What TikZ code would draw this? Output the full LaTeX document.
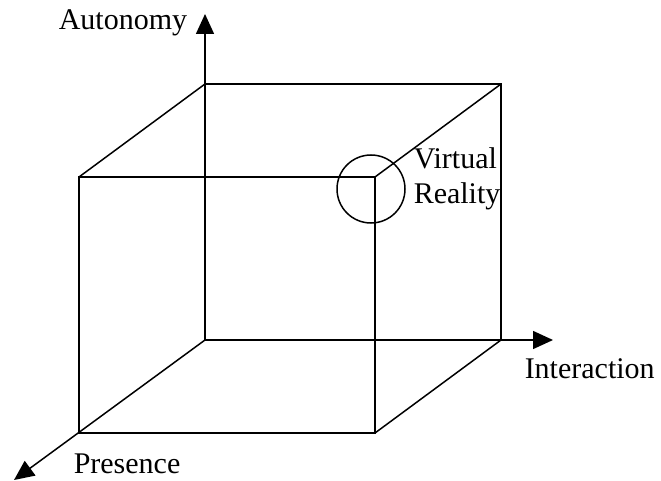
\documentclass[tikz,border=0pt]{standalone}
\usepackage{fontspec}
\setmainfont{Liberation Serif}
\usetikzlibrary{positioning, arrows.meta}

\begin{document}
\begin{tikzpicture}[x=1pt, y=-1pt, line width=1.5pt,
  font=\fontsize{30}{35}\selectfont,
  axis/.style={-{Triangle[length=20pt, width=18pt]}},
  lbl/.style={inner sep=0pt, anchor=base west}]
  \useasboundingbox (0,0) rectangle (661,481);
  % back face
  \coordinate (b0) at (205,340);
  \coordinate (b1) at (501,340);
  \coordinate (b2) at (501,84);
  \coordinate (b3) at (205,84);
  % front face
  \coordinate (f0) at (79,433);
  \coordinate (f1) at (375,433);
  \coordinate (f2) at (375,177);
  \coordinate (f3) at (79,177);
  % axis tips
  \coordinate (za) at (205,14);
  \coordinate (xa) at (553,340);
  \coordinate (ya) at (14,480);
  \draw (f0) -- (f1) -- (f2) -- (f3) -- cycle;
  \draw (b3) -- (b2) -- (b1);
  \draw (f3) -- (b3);
  \draw (f2) -- (b2);
  \draw (f1) -- (b1);
  \draw[axis] (b0) -- (za);
  \draw[axis] (b0) -- (xa);
  \draw[axis] (b0) -- (ya);
  \node[draw, circle, minimum size=68pt, inner sep=0pt] (vr) at (371,189) {};
  \node[lbl] (auto) at (58,30) {Autonomy};
  \node[lbl, anchor=north west, align=left] (virt) at (413,147) {Virtual\\Reality};
  \node[lbl] (inter) at (524,378) {Interaction};
  \node[lbl] (pres) at (73,473) {Presence};
\end{tikzpicture}
\end{document}
